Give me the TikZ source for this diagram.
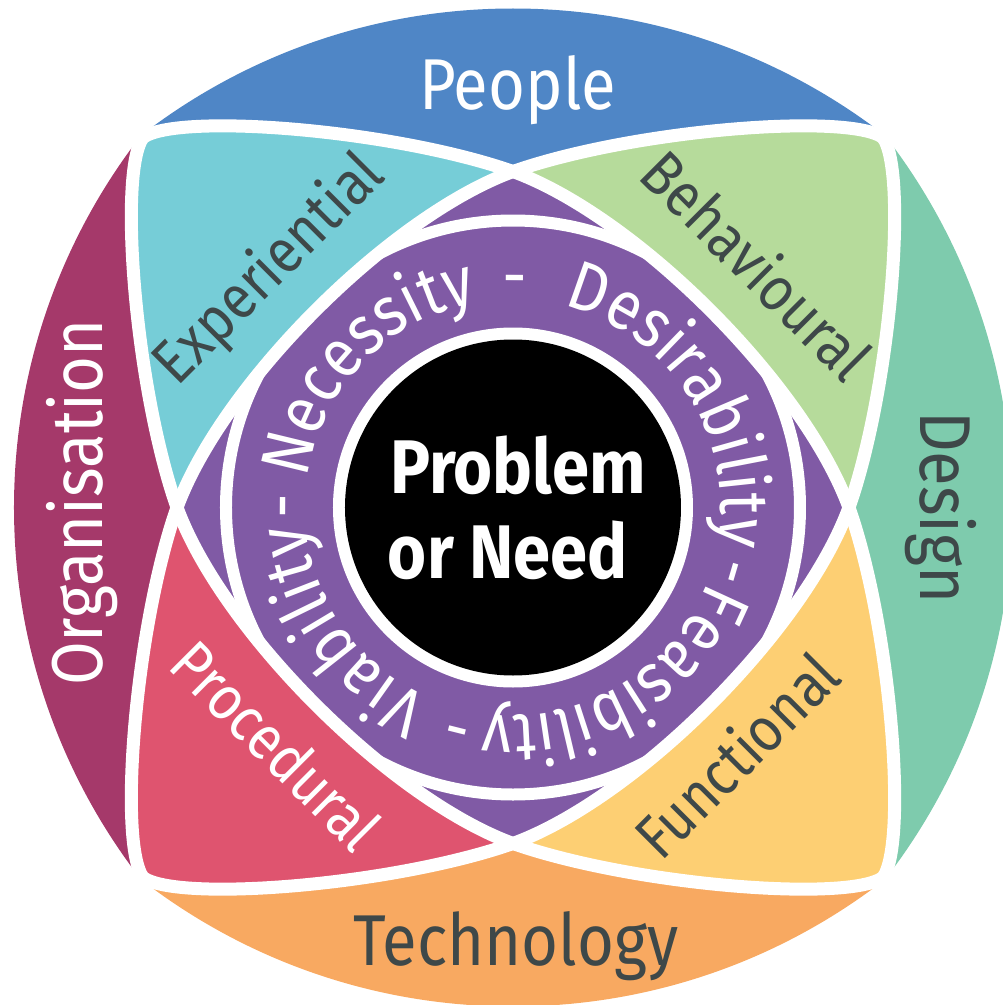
\documentclass[tikz,border=0pt]{standalone}
\usepackage{fontspec}
\setmainfont{Fira Sans}
\newfontfamily\labelfont[FakeStretch=0.88]{Fira Sans}
\usetikzlibrary{decorations.text}

\definecolor{cPeople}{RGB}{79,134,198}
\definecolor{cDesign}{RGB}{126,203,173}
\definecolor{cTech}{RGB}{248,169,97}
\definecolor{cOrg}{RGB}{165,57,106}
\definecolor{cExp}{RGB}{118,205,215}
\definecolor{cBeh}{RGB}{182,219,155}
\definecolor{cFunc}{RGB}{253,207,115}
\definecolor{cProc}{RGB}{223,84,111}
\definecolor{cPurple}{RGB}{128,90,165}
\definecolor{txt}{RGB}{62,72,73}

\newcommand\ringfont{\labelfont\fontsize{69}{69}\selectfont}

\tikzset{
  whitegap/.style={draw=white, line width=13pt, line cap=round},
  axislabel/.style={font={\labelfont\fontsize{72}{72}\selectfont}, inner sep=0pt, anchor=base},
  cornerlabel/.style={font={\labelfont\fontsize{62}{62}\selectfont}, inner sep=0pt, anchor=base},
  corelabel/.style={font={\labelfont\bfseries\fontsize{76}{76}\selectfont}, text=white, inner sep=0pt, anchor=base},
  ringword/.style={decorate, decoration={text along path, text color=white, text={|\ringfont|#1}}},
}

\begin{document}
\begin{tikzpicture}[x=1pt,y=1pt]
\useasboundingbox (-513,-497.5) rectangle (490,507.5);
\clip (-513,-497.5) rectangle (490,507.5);

% four outer petals: disc of the outer arc, cut by the two crossing curves
\foreach \a/\col in {0/cPeople,-90/cDesign,180/cTech,90/cOrg}{
  \begin{scope}[rotate=\a]
    \clip (-370,370) .. controls (-335,395) and (-120,378) .. (0,336)
          .. controls (120,378) and (335,395) .. (370,370)
          -- (370,700) -- (-370,700) -- cycle;
    \fill[\col] (0,-109) circle[radius=608];
  \end{scope}
}

% four corner regions
\foreach \a/\col in {0/cExp,-90/cBeh,180/cFunc,90/cProc}{
  \fill[\col, rotate=\a] (-370,370) .. controls (-335,395) and (-120,378) .. (0,336)
     .. controls (-123,291) and (-291,123) .. (-336,0)
     .. controls (-378,120) and (-395,335) .. (-370,370) -- cycle;
}

% central curved diamond
\fill[cPurple] (0,336) .. controls (123,291) and (291,123) .. (336,0)
   .. controls (291,-123) and (123,-291) .. (0,-336)
   .. controls (-123,-291) and (-291,-123) .. (-336,0)
   .. controls (-291,123) and (-123,291) .. (0,336) -- cycle;

% outline of the ring, kept inside the diamond
\begin{scope}
  \clip (0,336) .. controls (123,291) and (291,123) .. (336,0)
     .. controls (291,-123) and (123,-291) .. (0,-336)
     .. controls (-123,-291) and (-291,-123) .. (-336,0)
     .. controls (-291,123) and (-123,291) .. (0,336) -- cycle;
  \draw[white, line width=12pt] (0,0) circle[radius=287];
\end{scope}

% white separating curves
\foreach \a in {0,90,180,270}{
  \draw[whitegap, rotate=\a] (-370,370) .. controls (-335,395) and (-120,378) .. (0,336)
     .. controls (123,291) and (291,123) .. (336,0)
     .. controls (378,-120) and (395,-335) .. (370,-370);
}

% core disc
\fill[white] (0,0) circle[radius=180];
\fill[black] (0,0) circle[radius=168];
\node[corelabel] (problem) at (5,14.5) {Problem};
\node[corelabel] (need) at (-5,-70.5) {or Need};

% words around the ring, read clockwise
\path[ringword={Necessity}] (172:208) arc[start angle=172, end angle=40, radius=208];
\path[ringword={-}] (93:208) arc[start angle=93, end angle=60, radius=208];
\path[ringword={Desirability}] (76:208) arc[start angle=76, end angle=-60, radius=208];
\path[ringword={-}] (-13:208) arc[start angle=-13, end angle=-40, radius=208];
\path[ringword={Feasibility}] (-20.7:208) arc[start angle=-20.7, end angle=-150, radius=208];
\path[ringword={-}] (-100.7:208) arc[start angle=-100.7, end angle=-130, radius=208];
\path[ringword={Viability}] (-113.7:208) arc[start angle=-113.7, end angle=-240, radius=208];
\path[ringword={-}] (-177:208) arc[start angle=-177, end angle=-210, radius=208];

% outer labels
\node[axislabel, text=white] (people) at (4.5,397.5) {People};
\node[axislabel, text=txt, rotate=-90] (design) at (407,0) {Design};
\node[axislabel, text=txt] (technology) at (3,-457.5) {Technology};
\node[axislabel, text=white, rotate=90] (organisation) at (-410,5) {Organisation};

% corner labels
\node[cornerlabel, text=txt, rotate=45] (experiential) at (-230.5,225) {Experiential};
\node[cornerlabel, text=txt, rotate=-45] (behavioural) at (227.5,226.5) {Behavioural};
\node[cornerlabel, text=txt, rotate=45] (functional) at (239.5,-264) {Functional};
\node[cornerlabel, text=white, rotate=-45] (procedural) at (-252.5,-254) {Procedural};
\end{tikzpicture}
\end{document}
